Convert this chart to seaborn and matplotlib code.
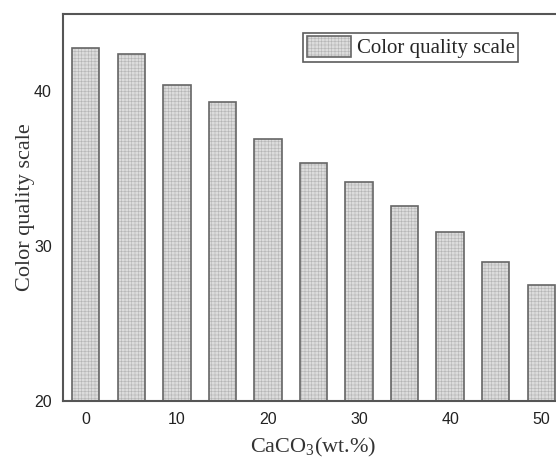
import matplotlib
matplotlib.use("Agg")
import matplotlib.pyplot as plt
import seaborn as sns
import pandas as pd
from matplotlib.legend_handler import HandlerTuple

caco3 = [0, 5, 10, 15, 20, 25, 30, 35, 40, 45, 50]
cqs = [42.8, 42.4, 40.4, 39.3, 36.9, 35.4, 34.15, 32.6, 30.9, 29.0, 27.5]
xticks = [0, 10, 20, 30, 40, 50]
yticks = [20, 30, 40]

sns.set_style("white")
plt.rcParams["hatch.linewidth"] = 0.4
plt.rcParams["mathtext.fontset"] = "custom"
plt.rcParams["mathtext.rm"] = "Liberation Serif"

df = pd.DataFrame({"CaCO3": caco3, "Color quality scale": cqs})

fig = plt.figure(figsize=(5.56, 4.58), dpi=100)
ax = fig.add_axes([63 / 556, 57 / 458, 501 / 556, 387 / 458])

sns.barplot(data=df, x="CaCO3", y="Color quality scale", native_scale=True,
            width=0.6, color="#dcdcdc", ax=ax,
            edgecolor="#b4b4b4", linewidth=0, hatch="+++++")
n1 = len(ax.patches)
sns.barplot(data=df, x="CaCO3", y="Color quality scale", native_scale=True,
            width=0.6, fill=False, ax=ax,
            edgecolor="#666666", linewidth=1.2)
p_fill = ax.patches[0]
p_edge = ax.patches[n1]

ax.set_xlim(-2.5, 52.5)
ax.set_ylim(20, 45)
ax.set_xticks(xticks)
ax.set_yticks(yticks)
ax.tick_params(length=0, labelsize=11.5, colors="#222222", pad=8)
for lab in ax.get_xticklabels() + ax.get_yticklabels():
    lab.set_fontfamily("Liberation Sans")
for s in ax.spines.values():
    s.set_color("#555555")
    s.set_linewidth(1.5)

ax.set_xlabel("CaCO$_3$(wt.%)", fontfamily="Liberation Serif", fontsize=16,
              color="#333333", labelpad=6.5)
ax.set_ylabel("Color quality scale", fontfamily="Liberation Serif", fontsize=16,
              color="#333333", labelpad=-1)

leg = ax.legend(handles=[(p_fill, p_edge)], labels=["Color quality scale"],
                handler_map={tuple: HandlerTuple(ndivide=1)},
                loc="upper right", bbox_to_anchor=(0.916, 0.962), fancybox=False,
                prop={"family": "Liberation Serif", "size": 15},
                handlelength=2.15, handleheight=1.15, borderpad=0.15,
                handletextpad=0.25, borderaxespad=0.2)
leg.get_frame().set_edgecolor("#333333")
leg.get_frame().set_linewidth(1.2)

fig.savefig("out.png", dpi=100)
